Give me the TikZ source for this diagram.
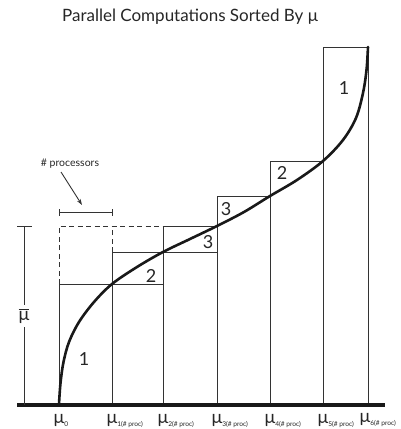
\documentclass[tikz,border=0pt]{standalone}
\usepackage{fontspec}
\setmainfont{Lato}
\newfontfamily\greekfont{Lato}
\usetikzlibrary{arrows.meta}
\tikzset{
  thin line/.style={line width=0.9pt, draw=black!80},
  dash line/.style={thin line, dash pattern=on 5pt off 3.5pt},
  curve line/.style={line width=2.6pt, draw=black!90, line cap=round},
  base line/.style={line width=3.3pt, draw=black!90},
  boxnum/.style={font=\fontsize{18}{18}\selectfont, text=black!85, inner sep=0pt},
  axlab/.style={font=\fontsize{18}{18}\selectfont, text=black!85, inner sep=0pt, anchor=north},
  titletext/.style={font=\fontsize{17}{18}\selectfont, text=black!85, inner sep=0pt},
  small label/.style={font=\fontsize{10.5}{11}\selectfont, text=black!85, inner sep=0pt}
}
\newcommand{\axsub}[1]{\rlap{\raisebox{-3pt}{\fontsize{6.6}{7}\selectfont #1}}}
\begin{document}
\begin{tikzpicture}[x=1pt,y=-1pt]
\useasboundingbox (0,0) rectangle (400,429);
% key coordinates
\coordinate (b0) at (59,405);
\coordinate (b1) at (112,405);
\coordinate (b2) at (163,405);
\coordinate (b3) at (217,405);
\coordinate (b4) at (270,405);
\coordinate (b5) at (323,405);
\coordinate (b6) at (368,405);
\coordinate (l0) at (59,284);
\coordinate (r2) at (163,284);
\coordinate (q1) at (112,252);
\coordinate (r3) at (217,252);
\coordinate (q2) at (163,226);
\coordinate (p3) at (217,226);
\coordinate (q3) at (217,196);
\coordinate (p4) at (270,196);
\coordinate (q4) at (270,161);
\coordinate (p5) at (323,161);
\coordinate (q5) at (323,47);
\coordinate (p6) at (368,47);
\coordinate (d0) at (59,226);
\coordinate (d1) at (112,226);
\coordinate (axL) at (17,405);
\coordinate (axR) at (385,405);

% title
\node[titletext] (title) at (190,17) {Parallel Computations Sorted By {\greekfont μ}};

% staircase boxes
\draw[thin line] (b0) -- (l0) -- (r2);
\draw[thin line] (b1) -- (q1) -- (r3);
\draw[thin line] (b2) -- (q2) -- (p3);
\draw[thin line] (b3) -- (q3) -- (p4);
\draw[thin line] (b4) -- (q4) -- (p5);
\draw[thin line] (b5) -- (q5) -- (p6) -- (b6);
% dashed box
\draw[dash line] (l0) -- (d0) -- (q2);
\draw[dash line] (q1) -- (d1);

% curve
\draw[curve line] plot[smooth, tension=0.55] coordinates {
  (59,404) (60.5,383) (63.5,362) (69,342) (79,322) (94,302) (112,284)
  (137,267) (163,252) (190,239) (217,226) (244,212) (270,196) (297,180)
  (323,161) (343,140) (356,118) (363,93) (366.5,70) (368,47)};

% baseline
\draw[base line] (axL) -- (axR);

% mu-bar bar
\coordinate (mt) at (24,226);
\coordinate (mb) at (24,405);
\coordinate (mtl) at (17,226);
\coordinate (mtr) at (32,226);
\draw[thin line] (mt) -- (mb);
\draw[thin line] (mtl) -- (mtr);
\node[fill=white, inner xsep=1pt, inner ysep=4pt, font=\fontsize{18}{18}\selectfont, text=black!85] (mubar) at (24,316) {$\overline{\hbox{\greekfont μ}}$};

% processors bracket
\coordinate (k0) at (59,212);
\coordinate (k1) at (112,212);
\draw[thin line] (k0) -- (k1);
\draw[thin line] ([yshift=-3.5pt]k0) -- ([yshift=3.5pt]k0);
\draw[thin line] ([yshift=-3.5pt]k1) -- ([yshift=3.5pt]k1);
\node[small label] (proc) at (70,164) {\# processors};
\coordinate (arrowend) at (82,205);
\draw[thin line, -{Stealth[length=6pt,width=4pt]}] (61,172) -- (arrowend);

% box numbers
\node[boxnum] (n1a) at (84,359) {1};
\node[boxnum] (n2a) at (151,276) {2};
\node[boxnum] (n3a) at (208,242) {3};
\node[boxnum] (n3b) at (226,209) {3};
\node[boxnum] (n2b) at (282,173) {2};
\node[boxnum] (n1b) at (344,88) {1};

% axis labels
\node[axlab] (m0) at (59,414) {μ\axsub{0}};
\node[axlab] (m1) at (112,414) {μ\axsub{1(\# proc)}};
\node[axlab] (m2) at (163,414) {μ\axsub{2(\# proc)}};
\node[axlab] (m3) at (217,414) {μ\axsub{3(\# proc)}};
\node[axlab] (m4) at (270,414) {μ\axsub{4(\# proc)}};
\node[axlab] (m5) at (323,414) {μ\axsub{5(\# proc)}};
\node[axlab] (m6) at (365,413) {μ\axsub{6(\# proc)}};
\end{tikzpicture}
\end{document}
